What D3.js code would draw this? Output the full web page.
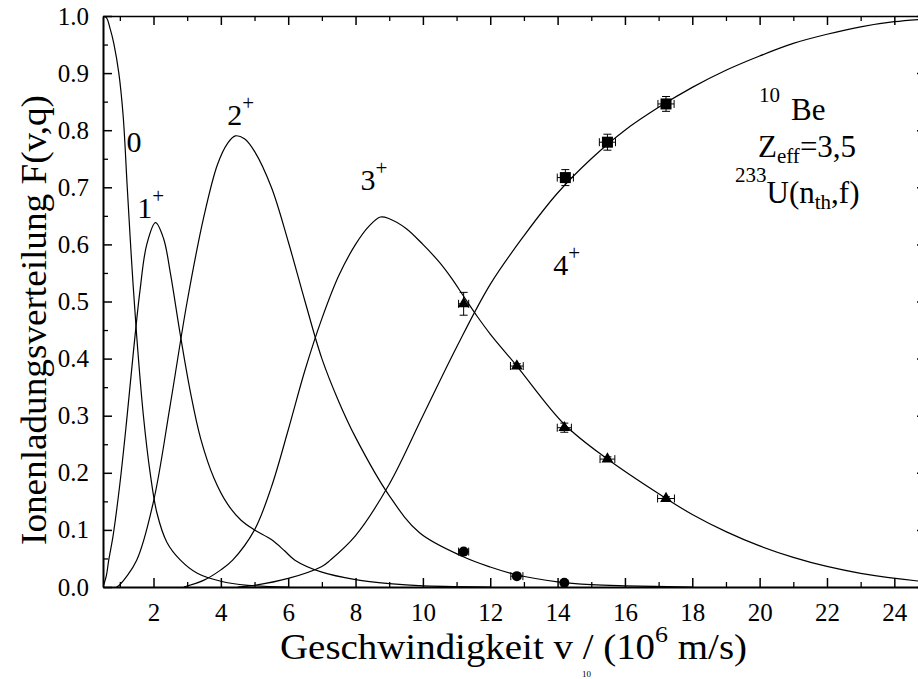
<!DOCTYPE html>
<html>
<head>
<meta charset="utf-8">
<script src="https://cdn.jsdelivr.net/npm/d3@7/dist/d3.min.js"></script>
<style>
  html, body { margin: 0; padding: 0; background: #fff; }
  svg { display: block; }
</style>
</head>
<body>
<svg id="chart" width="918" height="679"></svg>
<script>
// Charge-state fractions F(v,q) of 10Be ions versus velocity (10^6 m/s)
const curve0 = [[0.5,1.0],[0.6,0.997],[0.72,0.976],[0.82,0.952],[0.97,0.90],[1.10,0.824],[1.22,0.70],[1.35,0.57],[1.5,0.44],[1.7,0.30],[1.9,0.20],[2.1,0.13],[2.4,0.078],[2.8,0.047],[3.3,0.024],[4.0,0.01],[4.8,0.003],[6.0,0.0]];
const curve1 = [[0.5,0.0],[0.6,0.02],[0.67,0.047],[0.8,0.09],[1.0,0.18],[1.2,0.29],[1.4,0.41],[1.6,0.52],[1.8,0.60],[2.06,0.638],[2.3,0.61],[2.5,0.55],[2.8,0.44],[3.1,0.34],[3.4,0.26],[3.8,0.19],[4.2,0.145],[4.6,0.117],[5.0,0.10],[5.5,0.083],[5.9,0.063],[6.2,0.047],[7.0,0.026],[8.0,0.013],[9.0,0.006],[10.0,0.002],[12.0,0.0]];
const curve2 = [[0.9,0.0],[1.0,0.004],[1.5,0.047],[2.0,0.15],[2.5,0.32],[3.0,0.50],[3.5,0.65],[3.9,0.74],[4.2,0.777],[4.43,0.79],[4.7,0.785],[5.0,0.763],[5.5,0.70],[6.0,0.605],[6.5,0.50],[7.0,0.40],[7.5,0.325],[8.0,0.262],[9.0,0.16],[9.9,0.095],[11.2,0.053],[12.0,0.035],[12.8,0.021],[14.0,0.009],[15.0,0.004],[16.0,0.002],[18.0,0.0]];
const curve3 = [[2.9,0.0],[3.5,0.012],[4.0,0.03],[4.35,0.047],[5.0,0.10],[5.5,0.175],[6.0,0.275],[6.5,0.38],[7.0,0.47],[7.5,0.545],[8.0,0.60],[8.4,0.632],[8.74,0.648],[9.0,0.645],[9.5,0.628],[10.0,0.600],[10.5,0.568],[10.86,0.540],[11.2,0.51],[11.6,0.475],[12.0,0.443],[12.79,0.387],[14.2,0.285],[15.48,0.224],[17.22,0.155],[18.0,0.127],[19.0,0.097],[20.0,0.072],[21.0,0.052],[22.0,0.036],[23.0,0.024],[24.7,0.0105],[25.0,0.009]];
const curve4 = [[4.5,0.0],[5.0,0.003],[6.0,0.015],[7.0,0.036],[7.25,0.047],[8.0,0.09],[9.0,0.18],[10.0,0.30],[11.0,0.42],[12.0,0.53],[13.0,0.615],[14.0,0.69],[15.0,0.75],[16.0,0.80],[17.0,0.84],[18.0,0.875],[19.0,0.905],[20.0,0.93],[21.0,0.952],[22.0,0.968],[23.0,0.981],[24.0,0.99],[25.0,0.995]];

// measured fractions: [v, F, dv, dF]
const points2 = [[11.21,0.062,0.15,0.004],[12.79,0.019,0.18,0.003],[14.2,0.0075,0.0,0.0]];
const points3 = [[11.21,0.496,0.15,0.020],[12.79,0.387,0.19,0.004],[14.2,0.279,0.21,0.008],[15.48,0.224,0.22,0.004],[17.22,0.155,0.25,0.003]];
const points4 = [[14.23,0.717,0.24,0.014],[15.48,0.779,0.24,0.014],[17.22,0.846,0.24,0.013]];

const xTicks = [2,4,6,8,10,12,14,16,18,20,22,24];
const yTicks = [0.0,0.1,0.2,0.3,0.4,0.5,0.6,0.7,0.8,0.9,1.0];

const svg = d3.select("#chart");
const FONT = "Liberation Serif";
const frameL = 103, frameR = 928, frameT = 16, frameB = 587;

const x = d3.scaleLinear().domain([0.5, 25]).range([frameL, frameR]);
const y = d3.scaleLinear().domain([0, 1]).range([frameB, frameT]);

const plot = svg.append("g");

// clip curves to the frame
svg.append("defs").append("clipPath").attr("id","frame")
  .append("rect").attr("x", frameL).attr("y", frameT).attr("width", frameR-frameL).attr("height", frameB-frameT);

const line = d3.line().x(d => x(d[0])).y(d => y(d[1])).curve(d3.curveCatmullRom.alpha(0.5));
const curves = plot.append("g").attr("clip-path","url(#frame)");
[curve0, curve1, curve2, curve3, curve4].forEach(c => {
  curves.append("path").datum(c).attr("d", line)
    .attr("fill","none").attr("stroke","#000").attr("stroke-width",1.2);
});

// axes with inward ticks on all four sides
const minorX = d3.range(1, 25, 2);
const minorY = d3.range(0.05, 1.0, 0.1);

function styleAxis(g) {
  g.select(".domain").attr("stroke","#000").attr("stroke-width",2);
  g.selectAll(".tick line").attr("stroke","#000").attr("stroke-width",1.5);
}
function minor(g) {
  g.select(".domain").remove();
  g.selectAll(".tick line").attr("stroke","#000").attr("stroke-width",1.3);
}

const xBottom = plot.append("g").attr("transform",`translate(0,${frameB})`)
  .call(d3.axisBottom(x).tickValues(xTicks).tickSize(-9).tickSizeOuter(0).tickPadding(16).tickFormat(d3.format("d")));
styleAxis(xBottom);
xBottom.selectAll("text").attr("font-size",25);
plot.append("g").attr("transform",`translate(0,${frameB})`)
  .call(d3.axisBottom(x).tickValues(minorX).tickSize(-5).tickSizeOuter(0).tickFormat("")).call(minor);

const xTop = plot.append("g").attr("transform",`translate(0,${frameT})`)
  .call(d3.axisTop(x).tickValues(xTicks).tickSize(-9).tickSizeOuter(0).tickFormat(""));
styleAxis(xTop);
xTop.select(".domain").attr("stroke-width",1.5);
plot.append("g").attr("transform",`translate(0,${frameT})`)
  .call(d3.axisTop(x).tickValues(minorX).tickSize(-5).tickSizeOuter(0).tickFormat("")).call(minor);

const yLeft = plot.append("g").attr("transform",`translate(${frameL},0)`)
  .call(d3.axisLeft(y).tickValues(yTicks).tickSize(-9).tickSizeOuter(0).tickPadding(14).tickFormat(d3.format(".1f")));
styleAxis(yLeft);
yLeft.selectAll("text").attr("font-size",25);
plot.append("g").attr("transform",`translate(${frameL},0)`)
  .call(d3.axisLeft(y).tickValues(minorY).tickSize(-5).tickSizeOuter(0).tickFormat("")).call(minor);

const yRight = plot.append("g").attr("transform",`translate(${frameR},0)`)
  .call(d3.axisRight(y).tickValues(yTicks).tickSize(-11).tickSizeOuter(0).tickFormat(""));
styleAxis(yRight);

// error bars and markers
function errorBars(data) {
  const g = plot.append("g").attr("stroke","#000").attr("stroke-width",1);
  data.forEach(([v,f,dv,df]) => {
    if (dv > 0) {
      g.append("line").attr("x1",x(v-dv)).attr("x2",x(v+dv)).attr("y1",y(f)).attr("y2",y(f));
      g.append("line").attr("x1",x(v-dv)).attr("x2",x(v-dv)).attr("y1",y(f)-4).attr("y2",y(f)+4);
      g.append("line").attr("x1",x(v+dv)).attr("x2",x(v+dv)).attr("y1",y(f)-4).attr("y2",y(f)+4);
    }
    if (df > 0) {
      g.append("line").attr("x1",x(v)).attr("x2",x(v)).attr("y1",y(f-df)).attr("y2",y(f+df));
      g.append("line").attr("x1",x(v)-4).attr("x2",x(v)+4).attr("y1",y(f-df)).attr("y2",y(f-df));
      g.append("line").attr("x1",x(v)-4).attr("x2",x(v)+4).attr("y1",y(f+df)).attr("y2",y(f+df));
    }
  });
}
errorBars(points2); errorBars(points3); errorBars(points4);

plot.append("g").selectAll("circle").data(points2).join("circle")
  .attr("cx", d => x(d[0])).attr("cy", d => y(d[1])).attr("r", 5).attr("fill","#000");
const tri = d3.symbol().type(d3.symbolTriangle).size(60);
plot.append("g").selectAll("path").data(points3).join("path")
  .attr("d", tri).attr("transform", d => `translate(${x(d[0])},${y(d[1])})`).attr("fill","#000");
plot.append("g").selectAll("rect").data(points4).join("rect")
  .attr("x", d => x(d[0]) - 5.5).attr("y", d => y(d[1]) - 5.5).attr("width", 11).attr("height", 11).attr("fill","#000");

// charge-state labels: [charge, superscript, v, F] at the text baseline
const labels = [["0", null, 1.20, 0.762], ["1", "+", 1.52, 0.646], ["2", "+", 4.19, 0.809], ["3", "+", 8.15, 0.695], ["4", "+", 13.87, 0.546]];
const lab = plot.append("g");
labels.forEach(([q, sup, v, f]) => {
  const t = lab.append("text").attr("x", x(v)).attr("y", y(f)).attr("font-size", 30);
  t.append("tspan").text(q);
  if (sup) t.append("tspan").attr("dy", -15).attr("font-size", 21).text(sup);
});

// nucleus / reaction annotation
const ann = plot.append("g");
const a1 = ann.append("text").attr("x", 759).attr("y", 120).attr("font-size", 31);
a1.append("tspan").attr("font-size", 21).attr("dy", -18).text("10");
a1.append("tspan").attr("dy", 18).attr("dx", 11).text("Be");
const a2 = ann.append("text").attr("x", 758).attr("y", 157).attr("font-size", 31);
a2.append("tspan").text("Z");
a2.append("tspan").attr("font-size", 21).attr("dy", 6).text("eff");
a2.append("tspan").attr("dy", -6).text("=3,5");
const a3 = ann.append("text").attr("x", 735).attr("y", 203).attr("font-size", 31);
a3.append("tspan").attr("font-size", 21).attr("dy", -21).text("233");
a3.append("tspan").attr("dy", 21).text("U(n");
a3.append("tspan").attr("font-size", 21).attr("dy", 6).text("th");
a3.append("tspan").attr("dy", -6).text(",f)");

// axis titles
const xt = svg.append("text").attr("x", 280).attr("y", 659).attr("font-size", 36)
  .attr("textLength", 467).attr("lengthAdjust", "spacingAndGlyphs");
xt.append("tspan").text("Geschwindigkeit v / (10");
xt.append("tspan").attr("font-size", 24).attr("dy", -17).text("6");
xt.append("tspan").attr("dy", 17).text(" m/s)");

svg.append("text").attr("transform","translate(46,545) rotate(-90)").attr("font-size", 36)
  .attr("textLength", 450).attr("lengthAdjust", "spacingAndGlyphs")
  .text("Ionenladungsverteilung F(v,q)");

// figure caption continues below the frame
svg.append("text").attr("x", 582).attr("y", 677).attr("font-size", 9).text("10");

// one serif face for every text element
svg.selectAll("text, tspan").attr("font-family", FONT).attr("fill", "#000");
</script>
</body>
</html>
